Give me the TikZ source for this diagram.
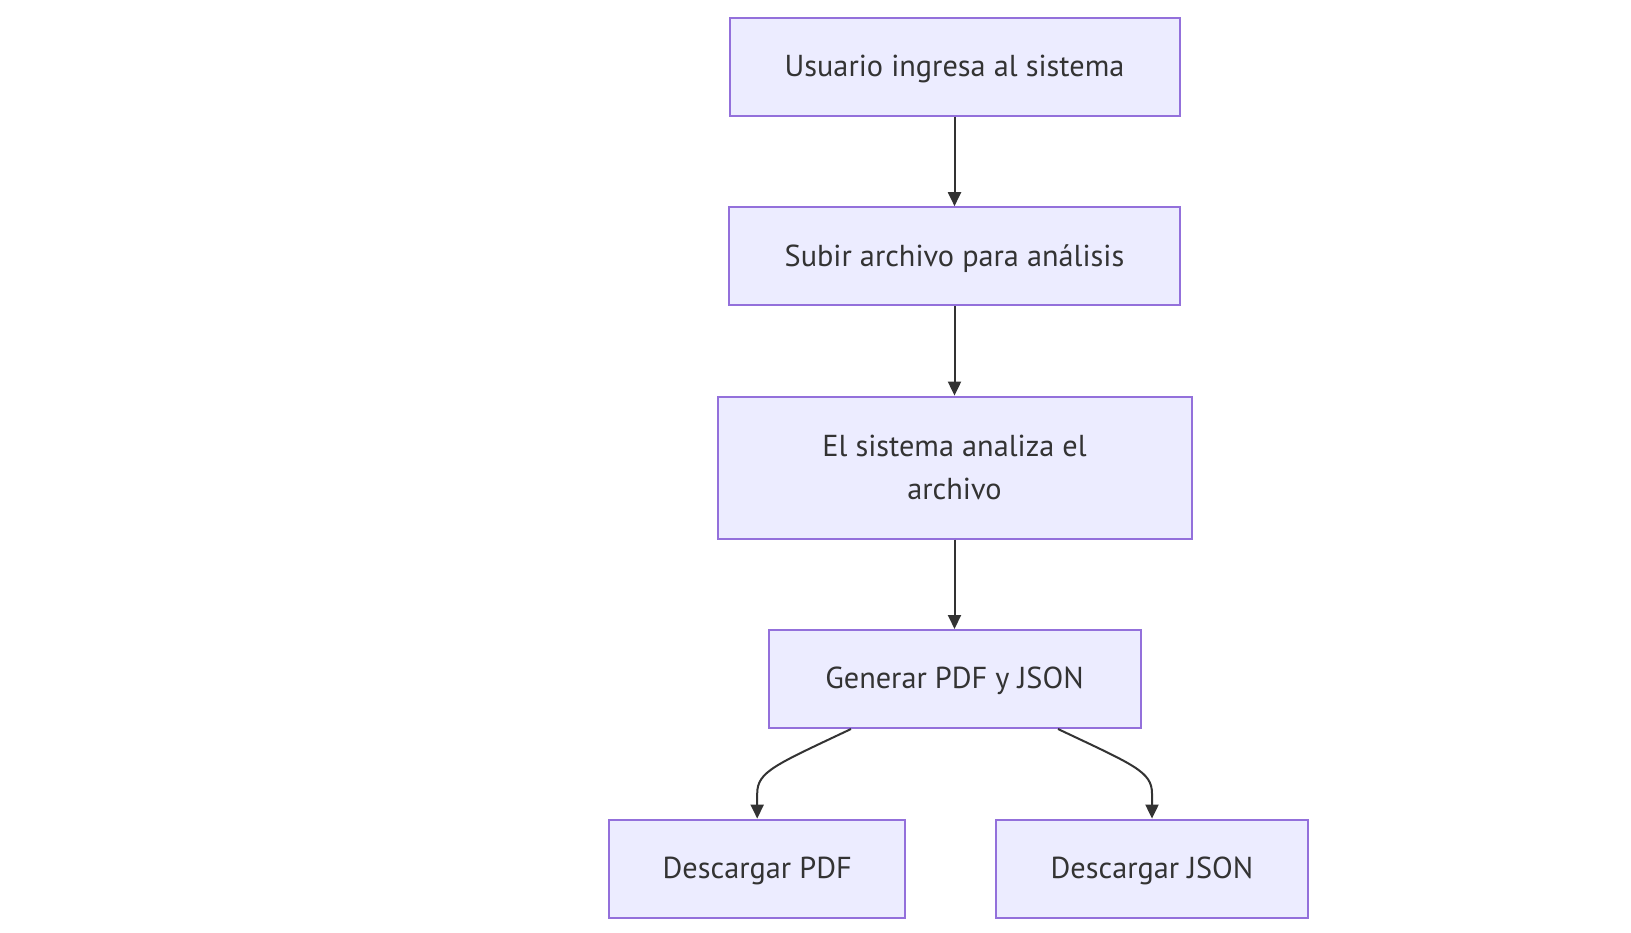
\documentclass[tikz,border=0pt]{standalone}
\usepackage{fontspec}
\setmainfont{PT Sans}
\usetikzlibrary{arrows.meta}
\definecolor{boxfill}{HTML}{ECECFF}
\definecolor{boxline}{HTML}{9370DB}
\definecolor{ink}{HTML}{333333}
\tikzset{
  box/.style={draw=boxline, fill=boxfill, line width=2pt, text=ink, align=center,
    font=\fontsize{30.3}{42.7}\selectfont, inner sep=0pt, minimum height=98pt},
  onebox/.style={box, text depth=2pt},
  arr/.style={draw=ink, line width=2pt, -{Triangle[length=14pt,width=13pt]}}
}
\begin{document}
\begin{tikzpicture}[x=1pt,y={(0,-1pt)}]
\useasboundingbox[fill=white] (0,0) rectangle (1631,933);
\node[onebox, minimum width=450pt] (a) at (954.5,66.6) {Usuario ingresa al sistema};
\node[onebox, minimum width=451pt] (b) at (954.5,256.2) {Subir archivo para análisis};
\node[box, minimum width=474pt, minimum height=142pt] (c) at (954.5,467.6) {El sistema analiza el\\archivo};
\node[onebox, minimum width=372pt] (d) at (954.5,679) {Generar PDF y JSON};
\node[onebox, minimum width=296pt] (e) at (757.2,868.6) {Descargar PDF};
\node[onebox, minimum width=312.5pt] (f) at (1152,868.6) {Descargar JSON};
\draw[arr] (a) -- (b);
\draw[arr] (b) -- (c);
\draw[arr] (c) -- (d);
\draw[arr] ([xshift=-103.5pt]d.south) .. controls +(-76,36) and +(0,-22) .. ([yshift=25pt]e.north) -- (e.north);
\draw[arr] ([xshift=103.5pt]d.south) .. controls +(76,36) and +(0,-22) .. ([yshift=25pt]f.north) -- (f.north);
\end{tikzpicture}
\end{document}
